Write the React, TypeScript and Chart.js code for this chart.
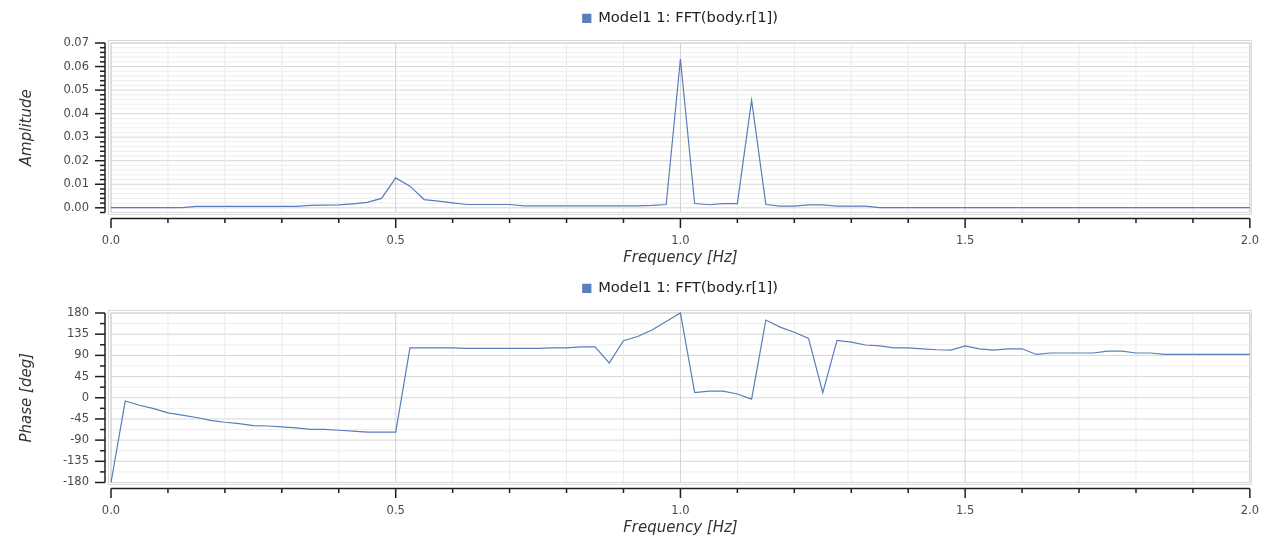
import React, { useEffect, useRef } from "react";
import { Chart, registerables } from "chart.js";

Chart.register(...registerables);

const FONT = "'DejaVu Sans', 'Liberation Sans', sans-serif";
Chart.defaults.font.family = FONT;

const SERIES_LABEL = "Model1 1: FFT(body.r[1])";
const X_TITLE = "Frequency [Hz]";
const AMP_TITLE = "Amplitude";
const PHASE_TITLE = "Phase [deg]";

const FREQ = [
  0.0, 0.025, 0.05, 0.075, 0.1, 0.125, 0.15, 0.175, 0.2, 0.225,
  0.25, 0.275, 0.3, 0.325, 0.35, 0.375, 0.4, 0.425, 0.45, 0.475,
  0.5, 0.525, 0.55, 0.575, 0.6, 0.625, 0.65, 0.675, 0.7, 0.725,
  0.75, 0.775, 0.8, 0.825, 0.85, 0.875, 0.9, 0.925, 0.95, 0.975,
  1.0, 1.025, 1.05, 1.075, 1.1, 1.125, 1.15, 1.175, 1.2, 1.225,
  1.25, 1.275, 1.3, 1.325, 1.35, 1.375, 1.4, 1.425, 1.45, 1.475,
  1.5, 1.525, 1.55, 1.575, 1.6, 1.625, 1.65, 1.675, 1.7, 1.725,
  1.75, 1.775, 1.8, 1.825, 1.85, 1.875, 1.9, 1.925, 1.95, 1.975,
  2.0,
];

const AMPLITUDE = [
  0.0001, 0.0001, 0.0001, 0.0001, 0.0001, 0.0001, 0.0006, 0.0006, 0.0006, 0.0006,
  0.0006, 0.0006, 0.0006, 0.0006, 0.001, 0.0011, 0.0012, 0.0017, 0.0023, 0.004,
  0.0127, 0.0092, 0.0035, 0.0028, 0.0021, 0.0014, 0.0014, 0.0014, 0.0014, 0.0008,
  0.0008, 0.0008, 0.0008, 0.0008, 0.0008, 0.0008, 0.0008, 0.0008, 0.001, 0.0014,
  0.0632, 0.0018, 0.0013, 0.0018, 0.0018, 0.0457, 0.0014, 0.0007, 0.0007, 0.0012,
  0.0012, 0.0007, 0.0007, 0.0007, 0.0001, 0.0001, 0.0001, 0.0001, 0.0001, 0.0001,
  0.0001, 0.0001, 0.0001, 0.0001, 0.0001, 0.0001, 0.0001, 0.0001, 0.0001, 0.0001,
  0.0001, 0.0001, 0.0001, 0.0001, 0.0001, 0.0001, 0.0001, 0.0001, 0.0001, 0.0001,
  0.0001,
];

const PHASE = [
  -180, -7, -16, -23, -32, -37, -42, -48, -52, -55,
  -59, -60, -62, -64, -67, -67, -69, -71, -73, -73,
  -73, 106, 106, 106, 106, 105, 105, 105, 105, 105,
  105, 106, 106, 108, 108, 74, 121, 130, 144, 162,
  180, 11, 14, 14, 8, -3, 165, 150, 139, 126,
  11, 122, 118, 112, 110, 106, 106, 104, 102, 101,
  110, 104, 101, 104, 104, 92, 95, 95, 95, 95,
  99, 99, 95, 95, 92, 92, 92, 92, 92, 92,
  92,
];

const FREQ_RANGE = [0, 2];
const FREQ_TICKS = [0, 0.5, 1.0, 1.5, 2.0];
const FREQ_MINOR_STEP = 0.1;

const AMP_RANGE = [-0.002, 0.07];
const AMP_TICKS = [0, 0.01, 0.02, 0.03, 0.04, 0.05, 0.06, 0.07];
const AMP_MINOR_STEP = 0.002;

const PHASE_RANGE = [-180, 180];
const PHASE_TICKS = [-180, -135, -90, -45, 0, 45, 90, 135, 180];
const PHASE_MINOR_STEP = 22.5;

const LINE_COLOR = "#5a7dbb";

function steps(min: number, max: number, step: number): number[] {
  const out: number[] = [];
  const k0 = Math.ceil(min / step - 1e-6);
  const k1 = Math.floor(max / step + 1e-6);
  for (let k = k0; k <= k1; k++) out.push(k * step);
  return out;
}
const isMajor = (v: number, majors: number[]) => majors.some((m) => Math.abs(m - v) < 1e-7);

const plotFramePlugin = {
  id: "plotFrame",
  beforeDatasetsDraw(chart: any, _args: any, opts: any) {
    const { ctx, chartArea: a, scales } = chart;
    const x = scales.x;
    const y = scales.y;
    ctx.save();
    ctx.lineWidth = 1;
    const hline = (p: number, color: string) => {
      ctx.strokeStyle = color;
      ctx.beginPath();
      ctx.moveTo(a.left, p);
      ctx.lineTo(a.right, p);
      ctx.stroke();
    };
    const vline = (p: number, color: string) => {
      ctx.strokeStyle = color;
      ctx.beginPath();
      ctx.moveTo(p, a.top);
      ctx.lineTo(p, a.bottom);
      ctx.stroke();
    };
    const yv = steps(y.min, y.max, opts.yMinor);
    yv.filter((v) => !isMajor(v, opts.yMajor)).forEach((v) => hline(y.getPixelForValue(v), "#eeeeee"));
    yv.filter((v) => isMajor(v, opts.yMajor)).forEach((v) => hline(y.getPixelForValue(v), "#d6d6d6"));
    const xv = steps(x.min, x.max, opts.xMinor);
    xv.filter((v) => !isMajor(v, opts.xMajor)).forEach((v) => vline(x.getPixelForValue(v), "#ebebeb"));
    xv.filter((v) => isMajor(v, opts.xMajor)).forEach((v) => vline(x.getPixelForValue(v), "#d2d2d2"));
    // double frame
    ctx.strokeStyle = "#d6d6d6";
    ctx.strokeRect(a.left, a.top, a.right - a.left, a.bottom - a.top);
    ctx.strokeStyle = "#d9d9d9";
    ctx.strokeRect(a.left - 2.5, a.top - 2.5, a.right - a.left + 4, a.bottom - a.top + 4.5);
    ctx.restore();
  },
  afterDraw(chart: any, _args: any, opts: any) {
    const { ctx, chartArea: a, scales } = chart;
    const x = scales.x;
    const y = scales.y;
    ctx.save();
    ctx.strokeStyle = "#1e1e1e";
    ctx.lineWidth = 1.5;
    const seg = (x0: number, y0: number, x1: number, y1: number) => {
      ctx.beginPath();
      ctx.moveTo(x0, y0);
      ctx.lineTo(x1, y1);
      ctx.stroke();
    };
    // y axis
    const ax = a.left - 6;
    seg(ax, y.getPixelForValue(y.max), ax, y.getPixelForValue(y.min));
    steps(y.min, y.max, opts.yMinor).forEach((v) => {
      const p = y.getPixelForValue(v);
      seg(ax - (isMajor(v, opts.yMajor) ? 10 : 5), p, ax, p);
    });
    // x axis
    const ay = a.bottom + 6;
    seg(x.getPixelForValue(x.min), ay, x.getPixelForValue(x.max), ay);
    steps(x.min, x.max, opts.xMinor).forEach((v) => {
      const p = x.getPixelForValue(v);
      seg(p, ay, p, ay + (isMajor(v, opts.xMajor) ? 9.5 : 4.5));
    });
    ctx.restore();
  },
};

type PanelProps = {
  values: number[];
  yRange: number[];
  yTicks: number[];
  yMinor: number;
  yTitle: string;
  yFormat: (v: number) => string;
};

function FftPanel({ values, yRange, yTicks, yMinor, yTitle, yFormat }: PanelProps) {
  const ref = useRef<HTMLCanvasElement | null>(null);
  useEffect(() => {
    if (!ref.current) return;
    const tickFont = { family: FONT, size: 11.5 };
    const titleFont = { family: FONT, size: 15, style: "italic" as const };
    const chart = new Chart(ref.current, {
      type: "line",
      data: {
        datasets: [
          {
            label: SERIES_LABEL,
            data: FREQ.map((f, i) => ({ x: f, y: values[i] })),
            borderColor: LINE_COLOR,
            backgroundColor: LINE_COLOR,
            borderWidth: 1.2,
            pointRadius: 0,
            tension: 0,
            clip: false as any,
          },
        ],
      },
      options: {
        responsive: false,
        animation: false,
        devicePixelRatio: 1,
        events: [],
        layout: { padding: { left: 0, right: 31, top: 0, bottom: 0 } },
        scales: {
          x: {
            type: "linear",
            min: FREQ_RANGE[0],
            max: FREQ_RANGE[1],
            bounds: "data",
            afterBuildTicks: (s: any) => {
              s.ticks = FREQ_TICKS.map((v) => ({ value: v }));
            },
            afterFit: (s: any) => {
              s.height = 57.5;
            },
            grid: { display: false, drawTicks: false },
            border: { display: false },
            ticks: {
              padding: 22,
              font: tickFont,
              color: "#4a4a4a",
              maxRotation: 0,
              autoSkip: false,
              callback: (v: any) => Number(v).toFixed(1),
            },
            title: {
              display: true,
              text: X_TITLE,
              font: titleFont,
              color: "#333333",
              padding: { top: 0, bottom: 3.3 },
            },
          },
          y: {
            type: "linear",
            min: yRange[0],
            max: yRange[1],
            bounds: "data",
            afterBuildTicks: (s: any) => {
              s.ticks = yTicks.map((v) => ({ value: v }));
            },
            afterFit: (s: any) => {
              s.width = 111;
            },
            grid: { display: false, drawTicks: false },
            border: { display: false },
            ticks: {
              padding: 22,
              font: tickFont,
              color: "#4a4a4a",
              autoSkip: false,
              callback: (v: any) => yFormat(Number(v)),
            },
            title: {
              display: true,
              text: yTitle,
              font: titleFont,
              color: "#333333",
              padding: { top: 18, bottom: 0 },
            },
          },
        },
        plugins: {
          legend: {
            display: true,
            position: "top",
            align: "center",
            fullSize: false,
            labels: {
              boxWidth: 8,
              boxHeight: 8,
              padding: 11,
              color: "#222222",
              font: { family: FONT, size: 14.7 },
            },
          },
          title: {
            display: true,
            text: "",
            padding: 0,
            weight: 500,
            font: { size: 7.3, lineHeight: 1 },
          },
          tooltip: { enabled: false },
          plotFrame: {
            xMinor: FREQ_MINOR_STEP,
            xMajor: FREQ_TICKS,
            yMinor,
            yMajor: yTicks,
          },
        } as any,
      },
      plugins: [plotFramePlugin],
    });
    return () => chart.destroy();
  }, []);
  return (
    <canvas
      ref={ref}
      width={1281}
      height={270}
      style={{ display: "block", width: 1281, height: 270 }}
    />
  );
}

export default function App() {
  return (
    <div
      style={{
        position: "absolute",
        left: 0,
        top: 0,
        width: 1281,
        height: 540,
        background: "#ffffff",
      }}
    >
      <FftPanel
        values={AMPLITUDE}
        yRange={AMP_RANGE}
        yTicks={AMP_TICKS}
        yMinor={AMP_MINOR_STEP}
        yTitle={AMP_TITLE}
        yFormat={(v) => v.toFixed(2)}
      />
      <FftPanel
        values={PHASE}
        yRange={PHASE_RANGE}
        yTicks={PHASE_TICKS}
        yMinor={PHASE_MINOR_STEP}
        yTitle={PHASE_TITLE}
        yFormat={(v) => String(Math.round(v))}
      />
    </div>
  );
}
